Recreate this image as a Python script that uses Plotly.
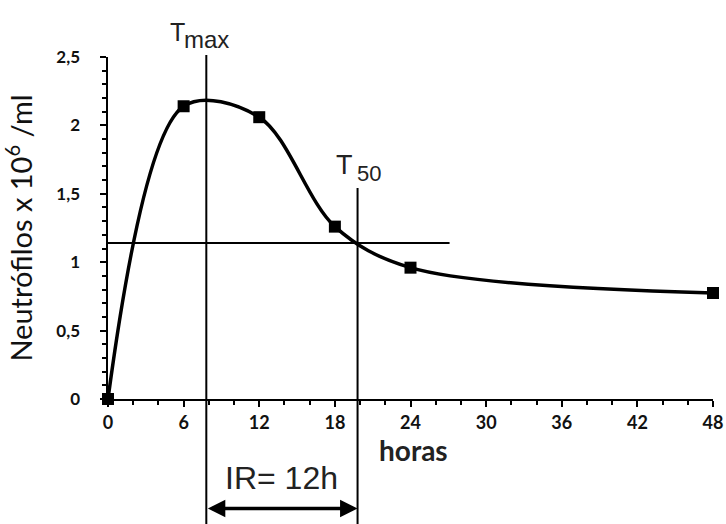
import plotly.graph_objects as go

# data
hours = [0, 6, 12, 18, 24, 48]
neutrophils = [0.0, 2.14, 2.06, 1.26, 0.96, 0.775]
x_ticks = [0, 6, 12, 18, 24, 30, 36, 42, 48]
x_tick_labels = ["0", "6", "12", "18", "24", "30", "36", "42", "48"]
y_ticks = [0, 0.5, 1, 1.5, 2, 2.5]
y_tick_labels = ["0", "0,5", "1", "1,5", "2", "2,5"]
t_max = 7.8
t_50 = 19.8
half_level = 1.14
half_line_end = 27.1

fig = go.Figure()
fig.add_trace(go.Scatter(
    x=hours, y=neutrophils, mode="lines+markers",
    line=dict(color="black", width=3.5, shape="spline", smoothing=0.95),
    marker=dict(symbol="square", size=12, color="black"),
    cliponaxis=False, showlegend=False,
))

x_font = dict(family="Lato", size=18, color="#111", weight="bold")
y_font = dict(family="Lato", size=17, color="#111", weight="bold")
pad = "\u00a0" * 4  # keeps y labels away from the axis like the reference
title_pad = "\u00a0" * 10  # moves the rotated title down, as in the reference
fig.update_layout(
    width=726, height=524,
    margin=dict(l=108, r=13, t=57, b=125),
    plot_bgcolor="white", paper_bgcolor="white",
    separators=",.",
    xaxis=dict(range=[x_ticks[0], x_ticks[-1]], tickmode="linear", tick0=x_ticks[0],
               dtick=x_ticks[1] - x_ticks[0],
               showgrid=False, zeroline=False, showline=True, linecolor="black", linewidth=2,
               ticks="outside", ticklen=6, tickwidth=2, tickcolor="black",
               minor=dict(dtick=2, ticks="outside", ticklen=4,
                          tickwidth=2, tickcolor="black", showgrid=False),
               tickfont=x_font, automargin=False),
    yaxis=dict(range=[y_ticks[0], y_ticks[-1]], tickmode="linear", tick0=y_ticks[0],
               dtick=y_ticks[1] - y_ticks[0], ticksuffix=pad,
               showgrid=False, zeroline=False, showline=True, linecolor="black", linewidth=2,
               ticks="outside", ticklen=6, tickwidth=2, tickcolor="black",
               minor=dict(dtick=0.1, ticks="outside", ticklen=4,
                          tickwidth=2, tickcolor="black", showgrid=False),
               tickfont=y_font, automargin=False,
               title=dict(text="Neutrófilos x 10<sup>6</sup> /ml" + title_pad,
                          font=dict(family="Lato", size=29, color="#111"),
                          standoff=16)),
)

# reference lines
fig.add_shape(type="line", xref="x", yref="y", x0=0, x1=half_line_end,
              y0=half_level, y1=half_level, line=dict(color="black", width=2))
fig.add_shape(type="line", xref="x", yref="paper", x0=t_max, x1=t_max,
              y0=-0.37, y1=1.006, line=dict(color="black", width=2))
fig.add_shape(type="line", xref="x", yref="paper", x0=t_50, x1=t_50,
              y0=-0.37, y1=0.617, line=dict(color="black", width=2))

arial = "Liberation Sans, Arial"
# T max label
fig.add_annotation(x=t_max, xref="x", y=1.05, yref="paper", text="max", showarrow=False,
                   xanchor="center", yanchor="middle", font=dict(family=arial, size=24, color="#222"))
fig.add_annotation(x=t_max, xref="x", y=1.072, yref="paper", text="T", showarrow=False,
                   xanchor="right", yanchor="middle", xshift=-19, font=dict(family=arial, size=25, color="#222"))
# T 50 label
fig.add_annotation(x=t_50, xref="x", y=0.66, yref="paper", text="50", showarrow=False,
                   xanchor="left", yanchor="middle", xshift=-3, font=dict(family=arial, size=22, color="#222"))
fig.add_annotation(x=t_50, xref="x", y=0.683, yref="paper", text="T", showarrow=False,
                   xanchor="right", yanchor="middle", xshift=-3, font=dict(family=arial, size=27, color="#222"))

# horas
fig.add_annotation(x=24.2, xref="x", y=-0.205, yref="paper", text="horas", showarrow=False,
                   font=dict(family="Lato", size=28, color="#222", weight="bold"))
# IR
fig.add_annotation(x=(t_max + t_50) / 2, xref="x", y=-0.29, yref="paper", text="IR= 12h",
                   showarrow=False, font=dict(family=arial, size=32, color="#222"))
fig.add_annotation(x=t_50, xref="x", y=-0.32, yref="paper", ax=t_max, axref="x", ay=0, ayref="pixel",
                   text="", showarrow=True, arrowhead=2, startarrowhead=2, arrowside="end+start",
                   arrowwidth=3.5, arrowsize=1, startarrowsize=1, arrowcolor="black")

# remove the default 8px page margin so the figure sits at the window's corner
fig.write_html("out.html", config={"displayModeBar": False},
               post_script="document.body.style.margin='0';")
